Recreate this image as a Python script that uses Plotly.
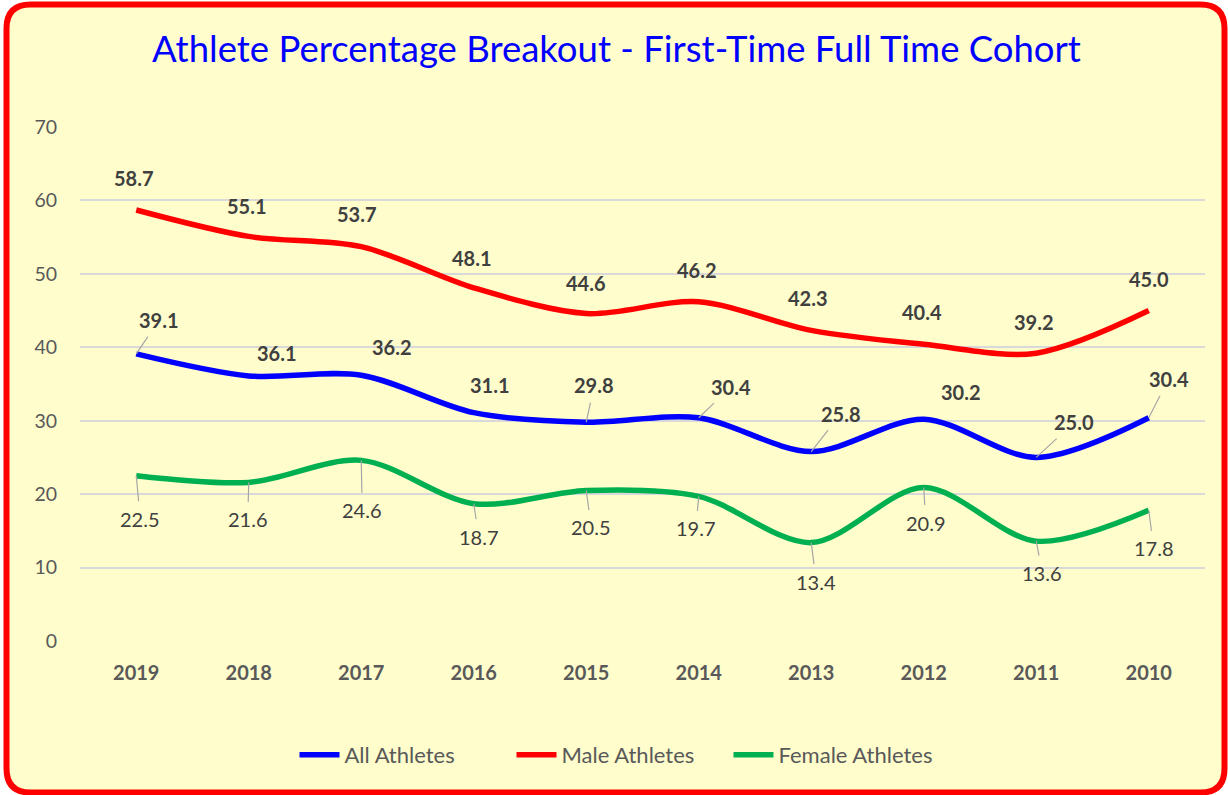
import plotly.graph_objects as go

years = ["2019", "2018", "2017", "2016", "2015", "2014", "2013", "2012", "2011", "2010"]
all_athletes = [39.1, 36.1, 36.2, 31.1, 29.8, 30.4, 25.8, 30.2, 25.0, 30.4]
male_athletes = [58.7, 55.1, 53.7, 48.1, 44.6, 46.2, 42.3, 40.4, 39.2, 45.0]
female_athletes = [22.5, 21.6, 24.6, 18.7, 20.5, 19.7, 13.4, 20.9, 13.6, 17.8]

# label offsets (pixels) and whether a leader line is drawn
all_off = [(23, -34, True), (28, -23, False), (31, -28, False), (16, -28, False), (8, -37, True),
           (32, -31, True), (30, -38, True), (37, -27, False), (38, -35, True), (20, -39, True)]
male_off = [(-2, -32), (-2, -30), (-4, -33), (-2, -30), (0, -31),
            (-2, -32), (-3, -32), (-2, -32), (-2, -31), (0, -32)]
fem_off = [(4, 43), (-1, 37), (1, 50), (5, 33), (5, 37),
           (-3, 32), (5, 39), (2, 35), (6, 32), (5, 38)]

BLUE, RED, GREEN = "#0000FF", "#FF0000", "#00B050"
BG = "#FFFDCC"
TXT = "#404040"
FONT = "Lato"

W, H = 1228, 795
L, R, T, B = 80, 23, 127, 154

fig = go.Figure()
for name, vals, col in [("All Athletes", all_athletes, BLUE),
                        ("Male Athletes", male_athletes, RED),
                        ("Female Athletes", female_athletes, GREEN)]:
    fig.add_trace(go.Scatter(x=years, y=vals, name=name, mode="lines",
                             line=dict(color=col, width=5.5, shape="spline", smoothing=0.9),
                             hoverinfo="x+y+name"))

idx = list(range(len(years)))
ann = []
for i, v, (dx, dy) in zip(idx, male_athletes, male_off):
    ann.append(dict(x=i, y=v, text=f"<b>{v:.1f}</b>", showarrow=False, xshift=dx, yshift=-dy,
                    font=dict(family=FONT, size=20, color=TXT)))
for i, v, (dx, dy, line) in zip(idx, all_athletes, all_off):
    ann.append(dict(x=i, y=v, text=f"<b>{v:.1f}</b>", showarrow=True, ax=dx, ay=dy,
                    arrowhead=0, arrowwidth=1.2, startstandoff=4,
                    arrowcolor="#A6A6A6" if line else "rgba(0,0,0,0)",
                    font=dict(family=FONT, size=20, color=TXT)))
for i, v, (dx, dy) in zip(idx, female_athletes, fem_off):
    ann.append(dict(x=i, y=v, text=f"{v:.1f}", showarrow=True, ax=dx, ay=dy,
                    arrowhead=0, arrowwidth=1.2, startstandoff=4, arrowcolor="#A6A6A6",
                    font=dict(family=FONT, size=20, color=TXT)))

# rounded border in paper coords
def px(xp):
    return (xp - L) / (W - L - R)
def py(yp):
    return (H - B - yp) / (H - T - B)

ann.append(dict(xref="paper", yref="paper", x=px(616), y=py(48),
                text="Athlete Percentage Breakout - First-Time Full Time Cohort",
                showarrow=False, font=dict(family=FONT, size=36.5, color=BLUE),
                xanchor="center", yanchor="middle"))

x0, x1, y0, y1, r = 6.5, 1224.5, 4.5, 792.5, 24
path = (f"M {px(x0 + r)},{py(y0)} L {px(x1 - r)},{py(y0)} Q {px(x1)},{py(y0)} {px(x1)},{py(y0 + r)} "
        f"L {px(x1)},{py(y1 - r)} Q {px(x1)},{py(y1)} {px(x1 - r)},{py(y1)} "
        f"L {px(x0 + r)},{py(y1)} Q {px(x0)},{py(y1)} {px(x0)},{py(y1 - r)} "
        f"L {px(x0)},{py(y0 + r)} Q {px(x0)},{py(y0)} {px(x0 + r)},{py(y0)} Z")

fig.update_layout(
    width=W, height=H,
    margin=dict(l=L, r=R, t=T, b=B),
    paper_bgcolor="white", plot_bgcolor="rgba(0,0,0,0)",
    shapes=[dict(type="path", xref="paper", yref="paper", path=path, fillcolor=BG,
                 line=dict(color="#FF0000", width=6), layer="below")],
    annotations=ann,
    showlegend=True,
    legend=dict(orientation="h", x=px(620), xanchor="center", y=py(755), yanchor="middle",
                font=dict(family=FONT, size=22, color="#595959"), itemwidth=40,
                entrywidth=162, entrywidthmode="pixels",
                bgcolor="rgba(0,0,0,0)", traceorder="normal"),
    xaxis=dict(type="category", range=[-0.5, len(years) - 0.5], autorange=False,
               showgrid=False, showline=False, zeroline=False,
               ticks="outside", ticklen=14, tickcolor="rgba(0,0,0,0)",
               tickfont=dict(family=FONT, size=20, color="#595959", weight="bold")),
    yaxis=dict(range=[0, 70], autorange=False, dtick=10, showgrid=True, gridcolor="#D9D9D9",
               gridwidth=1.5, zeroline=False, showline=False, ticks="outside", ticklen=18,
               tickcolor="rgba(0,0,0,0)",
               tickfont=dict(family=FONT, size=19.5, color="#595959")),
)

fig.write_html("out.html", config={"displayModeBar": False},
               post_script="document.body.style.margin='0';")
